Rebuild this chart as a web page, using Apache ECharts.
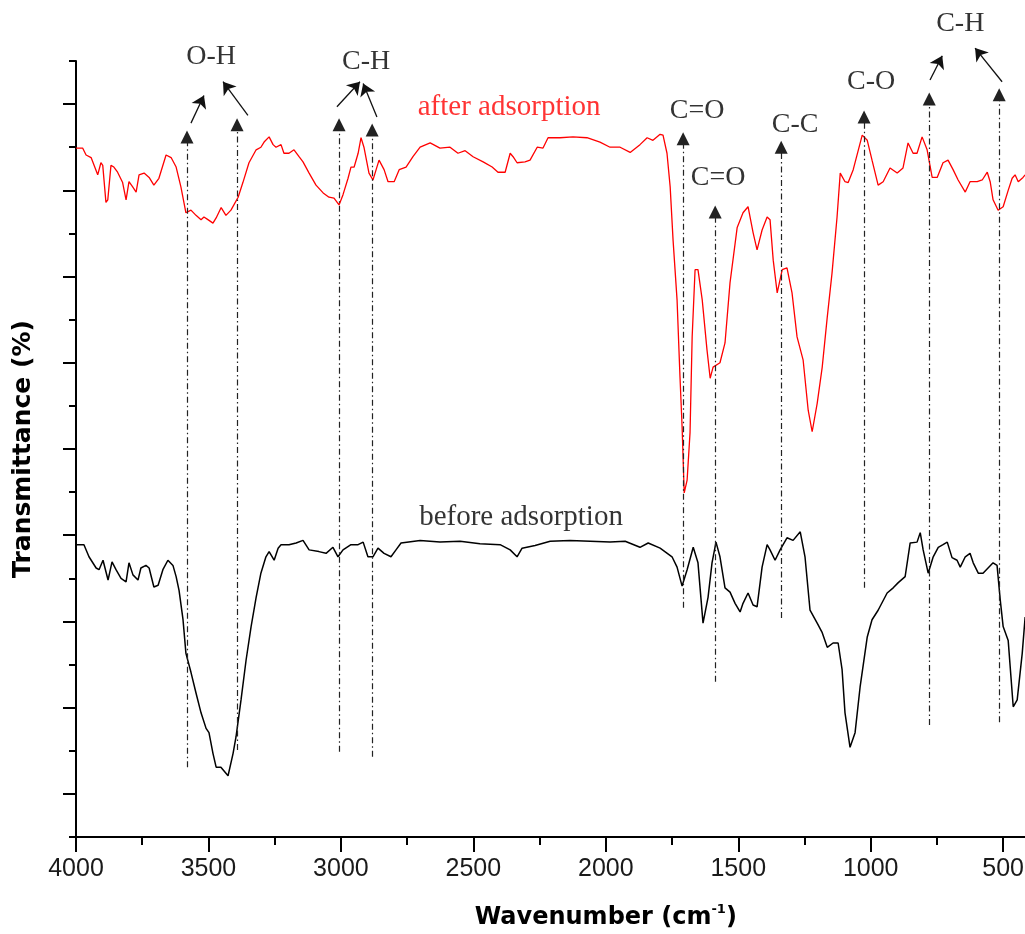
<!DOCTYPE html>
<html>
<head>
<meta charset="utf-8">
<script src="https://cdn.jsdelivr.net/npm/echarts@6/dist/echarts.min.js"></script>
<style>
html,body{margin:0;padding:0;background:#fff;}
#chart{width:1025px;height:934px;}
</style>
</head>
<body>
<div id="chart"></div>
<script>
// ---- data (wavenumber in cm-1, transmittance in arbitrary %) ----
const afterX = [4000,3975,3962,3943,3937,3918,3906,3899,3887,3880,
3868,3857,3843,3824,3811,3800,3786,3773,3762,3743,
3724,3706,3687,3660,3641,3622,3604,3585,3566,3547,
3528,3517,3502,3483,3471,3452,3434,3415,3388,3370,
3347,3320,3302,3290,3271,3256,3245,3226,3215,3196,
3177,3158,3143,3120,3094,3067,3045,3026,3007,2992,
2973,2962,2950,2935,2924,2913,2894,2879,2867,2856,
2837,2822,2799,2780,2754,2728,2701,2663,2626,2588,
2558,2531,2501,2463,2429,2407,2380,2361,2350,2335,
2305,2286,2259,2237,2218,2173,2124,2071,2022,1984,
1946,1908,1871,1844,1822,1795,1784,1769,1757,1746,
1731,1720,1712,1704,1693,1682,1674,1663,1652,1636,
1618,1606,1595,1569,1550,1531,1504,1482,1463,1444,
1429,1410,1391,1380,1368,1353,1334,1316,1297,1278,
1255,1236,1221,1202,1183,1164,1146,1127,1115,1097,
1085,1066,1032,1013,995,972,953,927,900,878,
859,840,825,806,787,768,749,727,708,689,
670,643,625,598,579,560,549,538,519,500,
481,466,455,443,425,417];
const afterY = [79.9,79.9,79.1,78.8,78.9,76.8,78.2,77.9,73.6,73.9,
77.9,77.7,77.1,75.9,73.9,76.0,75.4,74.8,76.8,77.0,
76.5,75.6,76.4,79.1,78.8,77.7,75.4,72.4,72.7,72.1,
71.6,71.9,71.6,71.2,71.8,73.0,72.1,72.7,74.2,75.9,
78.2,79.7,80.0,80.6,81.2,80.3,80.0,80.3,79.3,79.3,
79.7,78.9,78.3,77.0,75.6,74.7,74.2,74.1,73.3,74.5,
76.4,77.7,77.7,79.3,81.1,80.0,77.0,76.2,77.4,78.5,
77.4,76.0,76.0,77.4,77.7,78.9,80.0,80.5,79.9,80.0,
79.3,79.6,78.9,78.3,77.7,77.1,77.1,79.3,78.9,78.2,
78.3,78.5,80.0,79.9,81.1,81.1,81.2,81.1,80.6,80.0,
80.0,79.4,80.3,81.1,80.8,81.5,81.4,79.3,75.4,69.2,
62.3,53.4,47.6,39.9,41.4,46.9,58.0,65.8,65.8,62.3,
56.5,53.2,54.5,55.0,57.3,64.3,70.7,72.4,73.1,70.1,
68.1,70.4,71.9,71.6,66.9,63.1,65.8,66.0,63.1,58.0,
55.3,49.5,47.0,50.3,54.5,60.3,65.4,71.9,77.0,76.0,
75.9,77.4,81.4,80.8,78.5,75.6,76.0,77.6,77.0,77.6,
80.5,79.3,79.3,81.2,79.7,76.5,76.5,78.2,78.5,77.4,
76.2,74.8,76.0,76.0,76.2,77.1,76.0,73.9,72.7,73.1,
75.0,76.4,76.8,76.0,76.5,76.8];

const beforeX = [4000,3970,3951,3924,3913,3898,3879,3864,3849,3830,
3811,3800,3785,3766,3755,3736,3724,3706,3690,3672,
3653,3634,3622,3611,3596,3585,3566,3547,3528,3509,
3498,3483,3471,3453,3426,3407,3396,3377,3358,3339,
3320,3302,3283,3271,3252,3237,3226,3196,3169,3143,
3120,3083,3056,3030,3011,2992,2962,2935,2916,2898,
2879,2860,2837,2811,2792,2773,2701,2626,2550,2475,
2399,2361,2335,2316,2267,2210,2135,2059,1984,1927,
1871,1840,1795,1750,1731,1712,1693,1670,1652,1633,
1614,1599,1584,1569,1550,1531,1512,1493,1482,1463,
1444,1429,1410,1391,1380,1361,1342,1316,1293,1266,
1248,1229,1202,1183,1164,1142,1123,1108,1097,1078,
1059,1040,1013,995,972,938,915,896,870,851,
825,813,802,783,764,745,727,711,693,674,
662,643,625,613,594,576,557,538,523,511,
500,481,462,447,428,417];
const beforeY = [33.9,33.9,32.5,31.2,31.0,32.1,29.8,31.9,31.0,30.0,
29.6,31.8,30.4,29.8,31.2,31.5,31.2,29.0,29.2,31.0,
32.1,31.5,30.2,28.6,25.2,21.3,19.1,16.7,14.4,12.6,
12.1,9.7,8.1,8.1,7.1,9.7,11.6,15.9,20.5,24.4,
27.8,30.6,32.5,33.1,32.1,33.5,33.9,33.9,34.1,34.4,
33.3,33.1,32.9,33.6,32.5,33.3,33.9,33.9,34.2,32.5,
32.5,33.5,32.9,32.5,33.3,34.1,34.4,34.2,34.3,34.0,
33.9,33.3,32.5,33.5,33.8,34.3,34.4,34.3,34.2,34.3,
33.6,34.1,33.5,32.5,31.3,29.1,31.0,33.6,31.8,24.8,
27.8,31.8,34.2,32.5,28.9,28.4,27.1,26.1,27.1,28.3,
26.9,26.7,31.3,33.9,33.3,32.1,33.3,34.7,34.4,35.4,
32.5,26.3,24.8,23.7,22.0,22.5,22.5,19.4,14.4,10.4,
12.1,17.4,23.2,25.2,26.3,28.3,28.9,29.5,30.2,34.1,
34.2,35.3,33.3,30.6,32.5,33.6,33.9,34.2,32.4,32.1,
31.3,32.5,32.9,31.8,30.6,30.6,31.2,31.8,31.5,27.5,
24.4,22.8,15.1,15.9,21.3,25.5];

// peak marker lines (wavenumber, lower end, upper end)
const peakWn   = [3581,3392,3007,2882,1708,1587,1338,1025,779,515];
const peakLow  = [8.1,10.1,9.9,9.3,26.6,18.0,25.4,28.9,13.0,13.3];
const peakHigh = [81.2,82.6,82.6,82.0,81.0,72.5,80.0,83.5,85.6,86.1];

// diagonal arrows pointing to group labels
const arrowFromX = [3566,3351,3015,2864,776,504];
const arrowFromY = [82.8,83.7,84.7,83.5,87.8,87.6];
const arrowToX   = [3517,3445,2928,2916,730,606];
const arrowToY   = [86.0,87.6,87.6,87.4,90.6,91.5];

// bond labels
const bondNames = ['O-H','C-H','C=O','C=O','C-C','C-O','C-H'];
const bondX = [3490,2905,1655,1576,1285,998,662];
const bondY = [90.5,89.9,84.2,76.5,82.6,87.6,94.3];

// spectrum labels
const specNames = ['after adsorption','before adsorption'];
const specX = [2365,2320];
const specY = [84.6,37.1];
const specColors = ['#ff0000','#000000'];

function zip(xs, ys){ const n=Math.min(xs.length,ys.length); const out=[]; for(let i=0;i<n;i++) out.push([xs[i],ys[i]]); return out; }

const chart = echarts.init(document.getElementById('chart'), null, {renderer:'canvas'});

const peakLines = peakWn.map((w,i)=>[{coord:[w,peakLow[i]]},{coord:[w,peakHigh[i]]}]);
const diagLines = arrowFromX.map((x,i)=>[{coord:[x,arrowFromY[i]]},{coord:[arrowToX[i],arrowToY[i]]}]);

const bondData = bondNames.map((n,i)=>({name:n, value:[bondX[i],bondY[i]]}));
const specData = specNames.map((n,i)=>({name:n, value:[specX[i],specY[i]], label:{color:specColors[i]}}));

const serif = '"Liberation Serif","Times New Roman",serif';
const sans = '"Liberation Sans",Arial,sans-serif';
const titleFont = '"DejaVu Sans",sans-serif';

const option = {
  animation:false,
  backgroundColor:'#fff',
  grid:[
    {left:76, right:-110.6, top:61, bottom:97, containLabel:false, outerBoundsMode:'none'},
    {left:76, right:-110.6, top:0, bottom:97, containLabel:false, outerBoundsMode:'none'}
  ],
  xAxis:[
    {type:'value', gridIndex:0, min:0, max:4000, interval:500, inverse:true,
     axisLine:{show:true, onZero:false, lineStyle:{color:'#000', width:2}},
     axisTick:{show:true, length:15, lineStyle:{color:'#000', width:2}},
     minorTick:{show:true, splitNumber:2, length:8, lineStyle:{color:'#000', width:2}},
     splitLine:{show:false}, minorSplitLine:{show:false},
     axisLabel:{fontSize:25, color:'#1a1a1a', fontFamily:sans, margin:20, formatter:function(v){return String(v);}},
     name:'Wavenumber (cm{sup|-1})', nameLocation:'middle', nameGap:66,
     nameTextStyle:{fontFamily:titleFont, fontWeight:'bold', fontSize:24, color:'#000',
       rich:{sup:{fontFamily:titleFont, fontWeight:'bold', fontSize:13, color:'#000', verticalAlign:'top', lineHeight:30}}}
    },
    {type:'value', gridIndex:1, min:0, max:4000, inverse:true, show:false}
  ],
  yAxis:[
    {type:'value', gridIndex:0, min:0, max:90, interval:10,
     axisLine:{show:true, onZero:false, lineStyle:{color:'#000', width:2}},
     axisTick:{show:true, length:7, lineStyle:{color:'#000', width:2}},
     minorTick:{show:true, splitNumber:2, length:13, lineStyle:{color:'#000', width:2}},
     splitLine:{show:false}, minorSplitLine:{show:false},
     axisLabel:{show:false},
     name:'Transmittance (%)', nameLocation:'middle', nameGap:40, nameRotate:90,
     nameTextStyle:{fontFamily:titleFont, fontWeight:'bold', fontSize:25, color:'#000'}
    },
    {type:'value', gridIndex:1, min:0, max:97.08, show:false}
  ],
  series:[
    {type:'line', name:'before adsorption', xAxisIndex:0, yAxisIndex:0, data:zip(beforeX,beforeY),
     showSymbol:false, symbol:'none', lineStyle:{color:'#000', width:1.5}, itemStyle:{color:'#000'}, z:3},
    {type:'line', name:'after adsorption', xAxisIndex:0, yAxisIndex:0, data:zip(afterX,afterY),
     showSymbol:false, symbol:'none', lineStyle:{color:'#ff0000', width:1.3}, itemStyle:{color:'#ff0000'}, z:3},
    {type:'scatter', xAxisIndex:1, yAxisIndex:1, data:bondData, symbolSize:1,
     itemStyle:{color:'rgba(0,0,0,0)'}, silent:true, z:5,
     label:{show:true, position:'inside', formatter:'{b}', fontFamily:serif, fontSize:28, color:'#000'},
     markLine:{silent:true, animation:false, symbol:['none','triangle'], symbolSize:13,
       label:{show:false}, emphasis:{disabled:true},
       itemStyle:{color:'#000'},
       lineStyle:{color:'#222', width:1.2, type:[6,3,1.5,3]},
       data:peakLines}
    },
    {type:'scatter', xAxisIndex:1, yAxisIndex:1, data:specData, symbolSize:1,
     itemStyle:{color:'rgba(0,0,0,0)'}, silent:true, z:5,
     label:{show:true, position:'inside', formatter:'{b}', fontFamily:serif, fontSize:29},
     markLine:{silent:true, animation:false, symbol:['none','arrow'], symbolSize:12,
       label:{show:false}, emphasis:{disabled:true},
       itemStyle:{color:'#000'},
       lineStyle:{color:'#111', width:1.3, type:'solid'},
       data:diagLines}
    }
  ]
};
chart.setOption(option);
</script>
</body>
</html>
